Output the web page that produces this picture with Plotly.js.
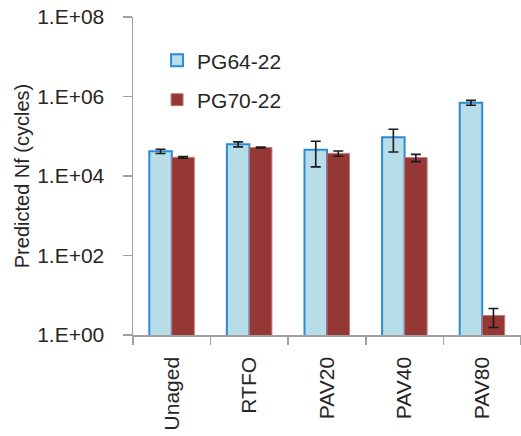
<!DOCTYPE html>
<html>
<head>
<meta charset="utf-8">
<script src="https://cdn.plot.ly/plotly-3.0.1.min.js"></script>
<style>html,body{margin:0;padding:0;background:#fff;}#chart{width:521px;height:436px;}</style>
</head>
<body>
<div id="chart"></div>
<script>
const categories = ['Unaged', 'RTFO', 'PAV20', 'PAV40', 'PAV80'];
const pg64 = [42000, 63000, 46000, 95000, 700000];
const pg64Err = [5200, 9000, 29000, 55000, 100000];
const pg70 = [29500, 52000, 37000, 29000, 3.1];
const pg70Err = [1500, 1500, 5500, 6000, 1.55];
const tickVals = [1, 100, 1e4, 1e6, 1e8];
const tickText = ['1.E+00', '1.E+02', '1.E+04', '1.E+06', '1.E+08'];

const font = {family: 'Liberation Sans, Arial, sans-serif', size: 21, color: '#262626'};

const traces = [
  {
    type: 'bar', name: 'PG64-22', x: categories, y: pg64, legendgroup: 'a',
    marker: {color: '#b7dde8', line: {color: '#2a8ad6', width: 2}},
    error_y: {type: 'data', array: pg64Err, visible: true, color: '#1a1a1a', thickness: 1.6, width: 5}
  },
  {
    type: 'bar', name: 'PG70-22', x: categories, y: pg70, legendgroup: 'b',
    marker: {color: '#953735', line: {color: '#c07a78', width: 1}},
    error_y: {type: 'data', array: pg70Err, visible: true, color: '#1a1a1a', thickness: 1.6, width: 5}
  }
];

const layout = {
  width: 521, height: 436,
  margin: {l: 133, r: 0, t: 17, b: 101},
  paper_bgcolor: '#fff', plot_bgcolor: '#fff',
  font: font,
  barmode: 'group', bargap: 0.42, bargroupgap: 0,
  showlegend: true,
  legend: {x: 0.062, y: 0.927, xanchor: 'left', yanchor: 'top', bgcolor: 'rgba(0,0,0,0)',
           font: {family: font.family, size: 21, color: '#262626'},
           traceorder: 'grouped', tracegroupgap: 9},
  xaxis: {
    type: 'category', showline: true, linecolor: '#a0a0a0', linewidth: 1.5,
    ticks: 'outside', tickson: 'boundaries', ticklen: 8, tickcolor: '#a0a0a0', tickwidth: 1.5,
    tickangle: -90, ticklabelstandoff: 12, showgrid: false, zeroline: false,
    tickfont: {family: font.family, size: 21, color: '#262626'}
  },
  yaxis: {
    type: 'log', range: [0, 8], showline: true, linecolor: '#a0a0a0', linewidth: 1.5,
    ticks: 'outside', ticklen: 9, tickcolor: '#a0a0a0', tickwidth: 1.5,
    tickvals: tickVals, ticktext: tickText, ticklabelstandoff: 14,
    showgrid: false, zeroline: false,
    tickfont: {family: font.family, size: 21, color: '#262626'},
    title: {text: 'Predicted Nf (cycles)', font: {family: font.family, size: 20, color: '#262626'}, standoff: 2}
  }
};

Plotly.newPlot('chart', traces, layout, {displayModeBar: false, staticPlot: true});
</script>
</body>
</html>
